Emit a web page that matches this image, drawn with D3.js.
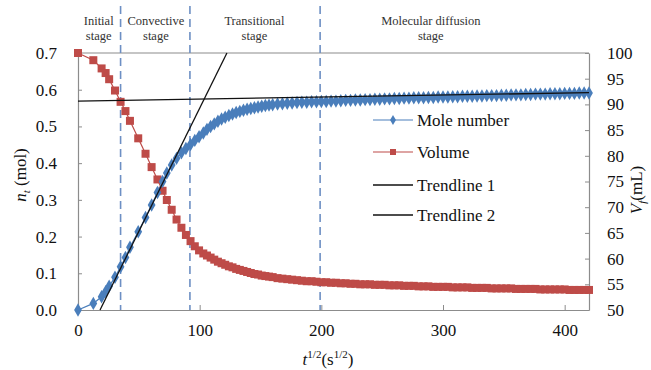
<!DOCTYPE html>
<html><head><meta charset="utf-8">
<script src="https://cdn.jsdelivr.net/npm/d3@7"></script>
<style>
body{margin:0;background:#fff;}
svg text{font-family:"Liberation Serif","DejaVu Serif",serif !important;}
</style></head>
<body><svg id="c" width="651" height="370"></svg>
<script>
// ---- data ----
const tRoot = [0,12.6,19.4,22.7,25.6,30.4,35,39,42.7,49.5,55.5,60.5,65.3,69.5,73,77,81,85,88.7,92.5,96,99.5,
103,106,109,112,115,118,121,124,127,130,133,136,139,142,145,148,151,154,157,160,
164,168,172,176,180,184,188,192,196,200,204,208,212,216,220,224,228,232,236,240,244,248,252,256,260,
264,268,272,276,280,284,288,292,296,300,304,308,312,316,320,324,328,332,336,340,344,348,352,356,360,
364,368,372,376,380,384,388,392,396,400,404,408,412,416,420];
const moleNumber = [0,0.018,0.036,0.05,0.065,0.089,0.118,0.143,0.171,0.213,0.252,0.286,0.32,0.35,0.373,0.395,0.413,0.428,0.44,0.451,0.462,0.472,
0.482,0.492,0.500,0.507,0.514,0.520,0.525,0.530,0.534,0.538,0.541,0.544,0.547,0.549,0.551,0.553,0.555,0.557,0.558,0.559,
0.561,0.562,0.563,0.564,0.565,0.566,0.566,0.567,0.567,0.568,0.568,0.569,0.569,0.570,0.571,0.571,0.572,0.572,0.573,0.573,0.574,0.574,0.575,0.575,0.576,
0.576,0.577,0.577,0.578,0.578,0.578,0.579,0.579,0.580,0.580,0.580,0.581,0.581,0.582,0.582,0.582,0.583,0.583,0.584,0.584,0.584,0.585,0.585,0.586,0.586,
0.586,0.587,0.587,0.588,0.588,0.588,0.589,0.589,0.589,0.590,0.590,0.590,0.591,0.591,0.591];
const volume = [100,98.6,97.0,96.1,94.9,92.7,90.5,88.7,86.8,83.4,80.4,77.8,75.4,73.2,71.4,69.5,67.6,66.0,64.6,63.4,62.4,61.6,
61.0,60.6,60.2,59.8,59.4,59.1,58.8,58.5,58.3,58.0,57.8,57.6,57.4,57.2,57.0,56.9,56.7,56.6,56.5,56.4,
56.2,56.1,56.0,55.9,55.8,55.7,55.6,55.6,55.5,55.4,55.4,55.3,55.3,55.2,55.2,55.1,55.1,55.0,55.0,55.0,54.9,54.9,54.9,54.8,54.8,
54.8,54.7,54.7,54.7,54.6,54.6,54.6,54.5,54.5,54.5,54.5,54.4,54.4,54.4,54.4,54.3,54.3,54.3,54.3,54.2,54.2,54.2,54.2,54.2,54.1,
54.1,54.1,54.1,54.1,54.0,54.0,54.0,54.0,54.0,54.0,53.9,53.9,53.9,53.9,53.9];
const trendline1 = [[0,0.569],[420,0.592]];
const trendline2 = [[18.1,0],[122.4,0.7]];
const stageBounds = [35,92,199];
const stageLabels = [["Initial","stage",17],["Convective","stage",64],["Transitional","stage",145],["Molecular diffusion","stage",290]];
const xTicks = [0,100,200,300,400];
const yLeftTicks = [0,0.1,0.2,0.3,0.4,0.5,0.6,0.7];
const yRightTicks = [50,55,60,65,70,75,80,85,90,95,100];
const legendItems = ["Mole number","Volume","Trendline 1","Trendline 2"];

// ---- drawing ----
const FONT = '"Liberation Serif","DejaVu Serif",serif';
const svg = d3.select("#c");
const x = d3.scaleLinear().domain([0,420]).range([78,589]);
const yL = d3.scaleLinear().domain([0,0.7]).range([310,53]);
const yR = d3.scaleLinear().domain([50,100]).range([310,53]);
const axisCol = "#8c8c8c", blue = "#4a7ebb", red = "#be4b48", dashCol = "#6d8fc4";

// frame
svg.append("line").attr("x1",x(0)).attr("x2",x(420)).attr("y1",yL(0.7)).attr("y2",yL(0.7)).attr("stroke",axisCol).attr("stroke-width",1.2);

// axes
const axB = svg.append("g").attr("transform",`translate(0,${yL(0)})`)
  .call(d3.axisBottom(x).tickValues(xTicks).tickSizeInner(-5).tickSizeOuter(0).tickPadding(14));
const axL = svg.append("g").attr("transform",`translate(${x(0)},0)`)
  .call(d3.axisLeft(yL).tickValues(yLeftTicks).tickFormat(d3.format(".1f")).tickSizeInner(-4).tickSizeOuter(0).tickPadding(21));
const axR = svg.append("g").attr("transform",`translate(${x(420)},0)`)
  .call(d3.axisRight(yR).tickValues(yRightTicks).tickSizeInner(-4).tickSizeOuter(0).tickPadding(18));
[axB,axL,axR].forEach(a=>{
  a.attr("font-family",FONT);
  a.select(".domain").attr("stroke",axisCol).attr("stroke-width",1.2);
  a.selectAll(".tick line").attr("stroke",axisCol);
  a.selectAll(".tick text").attr("font-size",17).attr("fill","#111").style("font-family",FONT);
});
axB.selectAll(".tick").filter(d=>d===0).select("line").remove();

// stage dashed lines
svg.selectAll(".stg").data(stageBounds).enter().append("line")
  .attr("x1",d=>x(d)).attr("x2",d=>x(d)).attr("y1",6).attr("y2",yL(0))
  .attr("stroke",dashCol).attr("stroke-width",1.6).attr("stroke-dasharray","8,5");

// stage labels
stageLabels.forEach(s=>{
  const t = svg.append("text").attr("x",x(s[2])).attr("text-anchor","middle").attr("font-size",12.5).attr("fill","#333").style("font-family",FONT);
  t.append("tspan").attr("x",x(s[2])).attr("y",25).text(s[0]);
  t.append("tspan").attr("x",x(s[2])).attr("y",40).text(s[1]);
});

// series
const vData = tRoot.map((t,i)=>[t,volume[i]]);
const nData = tRoot.map((t,i)=>[t,moleNumber[i]]);
svg.append("path").datum(vData).attr("fill","none").attr("stroke",red).attr("stroke-width",1.2)
  .attr("d",d3.line().x(d=>x(d[0])).y(d=>yR(d[1])));
svg.selectAll(".vm").data(vData).enter().append("rect")
  .attr("x",d=>x(d[0])-4).attr("y",d=>yR(d[1])-4).attr("width",8).attr("height",8).attr("fill",red);
svg.append("path").datum(nData).attr("fill","none").attr("stroke",blue).attr("stroke-width",1.2)
  .attr("d",d3.line().x(d=>x(d[0])).y(d=>yL(d[1])));
const diamond = d3.symbol().type(d3.symbolDiamond).size(52);
svg.selectAll(".nm").data(nData).enter().append("path")
  .attr("d",diamond).attr("transform",d=>`translate(${x(d[0])},${yL(d[1])})`).attr("fill",blue);

// trendlines
[trendline1,trendline2].forEach(tl=>{
  svg.append("line").attr("x1",x(tl[0][0])).attr("y1",yL(tl[0][1])).attr("x2",x(tl[1][0])).attr("y2",yL(tl[1][1]))
    .attr("stroke","#111").attr("stroke-width",1.3);
});

// legend
const legY = [120,152,185,215];
legendItems.forEach((name,i)=>{
  const y = legY[i];
  const col = i===0?blue:(i===1?red:"#111");
  svg.append("line").attr("x1",373).attr("x2",413).attr("y1",y).attr("y2",y).attr("stroke",col).attr("stroke-width",i>1?1.5:1.2);
  if(i===0) svg.append("path").attr("d",d3.symbol().type(d3.symbolDiamond).size(30)).attr("transform",`translate(393,${y})`).attr("fill",blue);
  if(i===1) svg.append("rect").attr("x",390).attr("y",y-3).attr("width",6).attr("height",6).attr("fill",red);
  svg.append("text").attr("x",417).attr("y",y+6).attr("font-size",17).attr("fill","#111").style("font-family",FONT).text(name);
});

// axis titles
const xt = svg.append("text").attr("x",328).attr("y",365).attr("text-anchor","middle").attr("font-size",17).attr("fill","#111").style("font-family",FONT);
xt.append("tspan").attr("font-style","italic").text("t");
xt.append("tspan").attr("font-size",11).attr("dy",-7).text("1/2");
xt.append("tspan").attr("dy",7).text("(s");
xt.append("tspan").attr("font-size",11).attr("dy",-7).text("1/2");
xt.append("tspan").attr("dy",7).text(")");

const lt = svg.append("text").attr("transform","translate(26,175) rotate(-90)").attr("text-anchor","middle").attr("font-size",17).attr("fill","#111").style("font-family",FONT);
lt.append("tspan").attr("font-style","italic").text("n");
lt.append("tspan").attr("font-style","italic").attr("font-size",11).attr("dy",4).text("t");
lt.append("tspan").attr("dy",-4).text(" (mol)");

const rt = svg.append("text").attr("transform","translate(642,190) rotate(-90)").attr("text-anchor","middle").attr("font-size",17).attr("fill","#111").style("font-family",FONT);
rt.append("tspan").attr("font-style","italic").text("V");
rt.append("tspan").attr("font-style","italic").attr("font-size",11).attr("dy",4).text("f");
rt.append("tspan").attr("dy",-4).text("(mL)");
</script></body></html>
